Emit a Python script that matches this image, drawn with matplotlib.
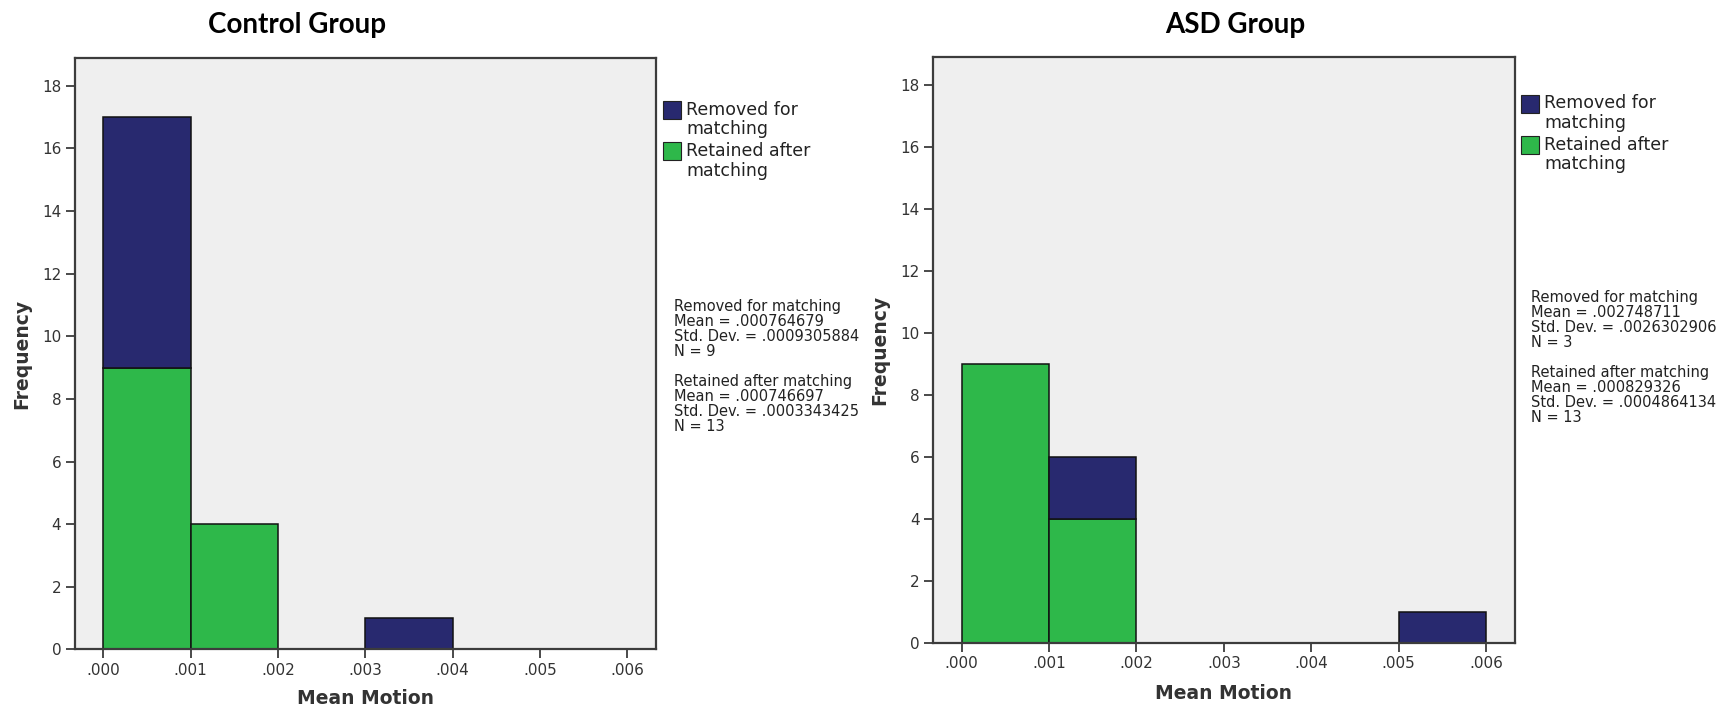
import matplotlib
matplotlib.use("Agg")
import matplotlib.pyplot as plt
from matplotlib.patches import Rectangle

plt.rcParams["font.family"] = ["DejaVu Sans"]

# Histogram bins of mean motion (width .001)
bin_edges = [0.000, 0.001, 0.002, 0.003, 0.004, 0.005, 0.006]
tick_labels = [".000", ".001", ".002", ".003", ".004", ".005", ".006"]
y_ticks = [0, 2, 4, 6, 8, 10, 12, 14, 16, 18]

series_names = ["Removed for matching", "Retained after matching"]

# Counts per bin
control_retained = [9, 4, 0, 0, 0, 0]
control_removed = [8, 0, 0, 1, 0, 0]
asd_retained = [9, 4, 0, 0, 0, 0]
asd_removed = [0, 2, 0, 0, 0, 1]

# Descriptive statistics shown beside each panel
control_stats = [
    ("Removed for matching", ".000764679", ".0009305884", "9"),
    ("Retained after matching", ".000746697", ".0003343425", "13"),
]
asd_stats = [
    ("Removed for matching", ".002748711", ".0026302906", "3"),
    ("Retained after matching", ".000829326", ".0004864134", "13"),
]

NAVY = "#28296f"
GREEN = "#2eb84a"
BG = "#efefef"
SPINE = "#3c3c3c"

W, H = 1732, 712
fig = plt.figure(figsize=(W / 100, H / 100), dpi=100)
fig.patch.set_facecolor("white")


def fx(px):
    return px / W


def fy(py):
    return 1 - py / H


def draw_panel(rect, retained, removed, title, title_x, ylab_x, xlab_y,
               stats, legend_xy, stats_xy):
    left, top, right, bottom = rect
    aw, ah = right - left, bottom - top
    ax = fig.add_axes([fx(left), fy(bottom), fx(aw), ah / H])
    ax.set_facecolor(BG)
    widths = [bin_edges[i + 1] - bin_edges[i] for i in range(len(retained))]
    lefts = bin_edges[:-1]
    ax.bar(lefts, retained, width=widths, align="edge", color=GREEN,
           edgecolor="#111111", linewidth=1.1, zorder=2)
    ax.bar(lefts, removed, width=widths, bottom=retained, align="edge", color=NAVY,
           edgecolor="#111111", linewidth=1.1, zorder=2)
    # hide zero-height outlines
    for p in ax.patches:
        if p.get_height() == 0:
            p.set_visible(False)

    ax.set_xlim(-0.00033, 0.00633)
    ax.set_ylim(0, 18.9)
    ax.set_xticks(bin_edges)
    ax.set_xticklabels(tick_labels)
    ax.set_yticks(y_ticks)
    ax.tick_params(axis="both", direction="out", length=6.5, width=1.3,
                   colors=SPINE, labelcolor="#333333", labelsize=11, pad=3)
    ax.tick_params(top=False, right=False)
    for s in ax.spines.values():
        s.set_color(SPINE)
        s.set_linewidth(1.6)

    ax.set_ylabel("Frequency", fontsize=13.5, fontweight="bold", color="#333333")
    ax.yaxis.label.set_va("center")
    ax.yaxis.set_label_coords((ylab_x - left) / aw, 0.5)
    ax.set_xlabel("Mean Motion", fontsize=13.5, fontweight="bold", color="#333333")
    ax.xaxis.label.set_va("center")
    ax.xaxis.set_label_coords(0.5, (bottom - xlab_y) / ah)

    fig.text(fx(title_x), fy(24.5), title, ha="center", va="center",
             fontsize=20, fontweight="bold", family="Lato")

    # legend
    lx, ly = legend_xy
    colors = [NAVY, GREEN]
    for i, (name, c) in enumerate(zip(series_names, colors)):
        yc = ly + i * 41
        fig.add_artist(Rectangle((fx(lx), fy(yc + 9)), fx(18), 18 / H,
                                 transform=fig.transFigure, facecolor=c,
                                 edgecolor="#222222", linewidth=0.8))
        words = name.split(" ")
        line1 = " ".join(words[:-1])
        line2 = words[-1]
        fig.text(fx(lx + 23), fy(yc), line1, ha="left", va="center",
                 fontsize=12.5, color="#222222")
        fig.text(fx(lx + 23), fy(yc + 19.5), line2, ha="left", va="center",
                 fontsize=12.5, color="#222222")

    # statistics block
    sx, sy = stats_xy
    for j, (name, mean, sd, n) in enumerate(stats):
        lines = [name, f"Mean = {mean}", f"Std. Dev. = {sd}", f"N = {n}"]
        for k, line in enumerate(lines):
            fig.text(fx(sx), fy(sy + j * 75 + k * 15), line, ha="left",
                     va="center", fontsize=10.5, color="#222222")
    return ax


draw_panel((74.5, 57.7, 656, 649.4), control_retained, control_removed,
           "Control Group", 297.5, 22, 699, control_stats, (663, 110), (674, 306.7))
draw_panel((932.8, 56.8, 1514.9, 642.6), asd_retained, asd_removed,
           "ASD Group", 1235.7, 880, 693.5, asd_stats, (1521, 103.5), (1531, 297.3))

fig.savefig("out.png", dpi=100)
